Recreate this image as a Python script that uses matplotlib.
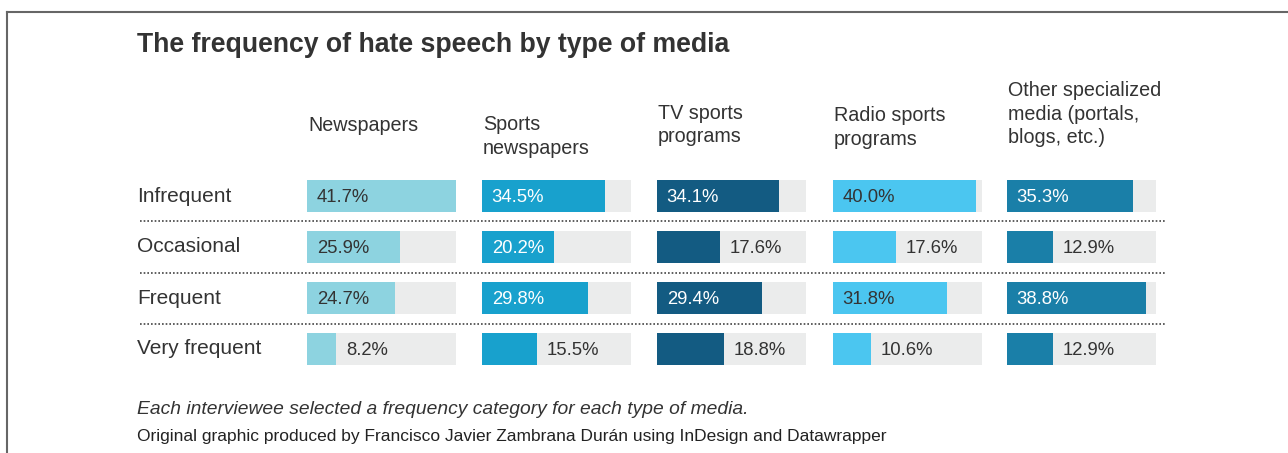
import matplotlib
matplotlib.use("Agg")
import matplotlib.pyplot as plt
from matplotlib.lines import Line2D

plt.rcParams['font.family'] = ['Liberation Sans', 'DejaVu Sans']

# data
frequencies = ["Infrequent", "Occasional", "Frequent", "Very frequent"]
media = ["Newspapers", "Sports\nnewspapers", "TV sports\nprograms",
         "Radio sports\nprograms", "Other specialized\nmedia (portals,\nblogs, etc.)"]
newspapers = [41.7, 25.9, 24.7, 8.2]
sports_newspapers = [34.5, 20.2, 29.8, 15.5]
tv_sports = [34.1, 17.6, 29.4, 18.8]
radio_sports = [40.0, 17.6, 31.8, 10.6]
other_media = [35.3, 12.9, 38.8, 12.9]
series = [newspapers, sports_newspapers, tv_sports, radio_sports, other_media]

colors = ["#8dd3e0", "#18a1cd", "#135b82", "#4bc6f0", "#1a7fa8"]
label_colors = ["#333333", "white", "white", "#333333", "white"]
scale_max = max(max(s) for s in series)

W, H = 1288, 453
fig = plt.figure(figsize=(W / 100, H / 100), dpi=100)

def fx(px):
    return px / W

def fy(py):
    return 1 - py / H

# frame lines
fig.add_artist(Line2D([fx(7), fx(7)], [fy(12), 0], color="#666666", lw=1.5))
fig.add_artist(Line2D([fx(7), 1], [fy(12), fy(12)], color="#666666", lw=1.5))

fig.text(fx(137), fy(45), "The frequency of hate speech by type of media",
         fontsize=19.2, fontweight="bold", color="#333333", va="center")

col_x = [307, 482, 657, 833, 1007]
col_w = 149
header_y = [125, 136.5, 125, 127.5, 114]
row_top, row_step = 170.5, 51

for i, vals in enumerate(series):
    ax = fig.add_axes([fx(col_x[i]), fy(row_top + 4 * row_step), fx(col_w), 4 * row_step / H])
    ypos = range(len(frequencies))
    ax.barh(ypos, [scale_max] * len(vals), height=0.63, color="#ebecec")
    ax.barh(ypos, vals, height=0.63, color=colors[i])
    ax.set_xlim(0, scale_max)
    ax.set_ylim(3.5, -0.5)
    ax.axis("off")
    for j, v in enumerate(vals):
        if v > 19:
            ax.annotate(f"{v:.1f}%", (0, j), xytext=(7, -1.2), textcoords="offset points",
                        va="center", ha="left", fontsize=13.3, color=label_colors[i])
        else:
            ax.annotate(f"{v:.1f}%", (v, j), xytext=(7, -1.2), textcoords="offset points",
                        va="center", ha="left", fontsize=13.3, color="#333333")
    fig.text(fx(col_x[i] + 1), fy(header_y[i]), media[i], fontsize=14.2,
             color="#333333", va="center", ha="left", linespacing=1.3)

for j, name in enumerate(frequencies):
    fig.text(fx(137), fy(row_top + row_step * (j + 0.5)), name, fontsize=15,
             color="#333333", va="center")

# dotted separators between rows
for j in range(1, 4):
    yy = fy(row_top + row_step * j)
    fig.add_artist(Line2D([fx(140), fx(1165)], [yy, yy], color="#444444",
                          lw=1.2, linestyle=(0, (1, 1.2))))

fig.text(fx(137), fy(409), "Each interviewee selected a frequency category for each type of media.",
         fontsize=13.9, style="italic", color="#333333", va="center")
fig.text(fx(137), fy(437), "Original graphic produced by Francisco Javier Zambrana Durán using InDesign and Datawrapper",
         fontsize=12.5, color="#222222", va="center")

fig.savefig("out.png", dpi=100, facecolor="white")
